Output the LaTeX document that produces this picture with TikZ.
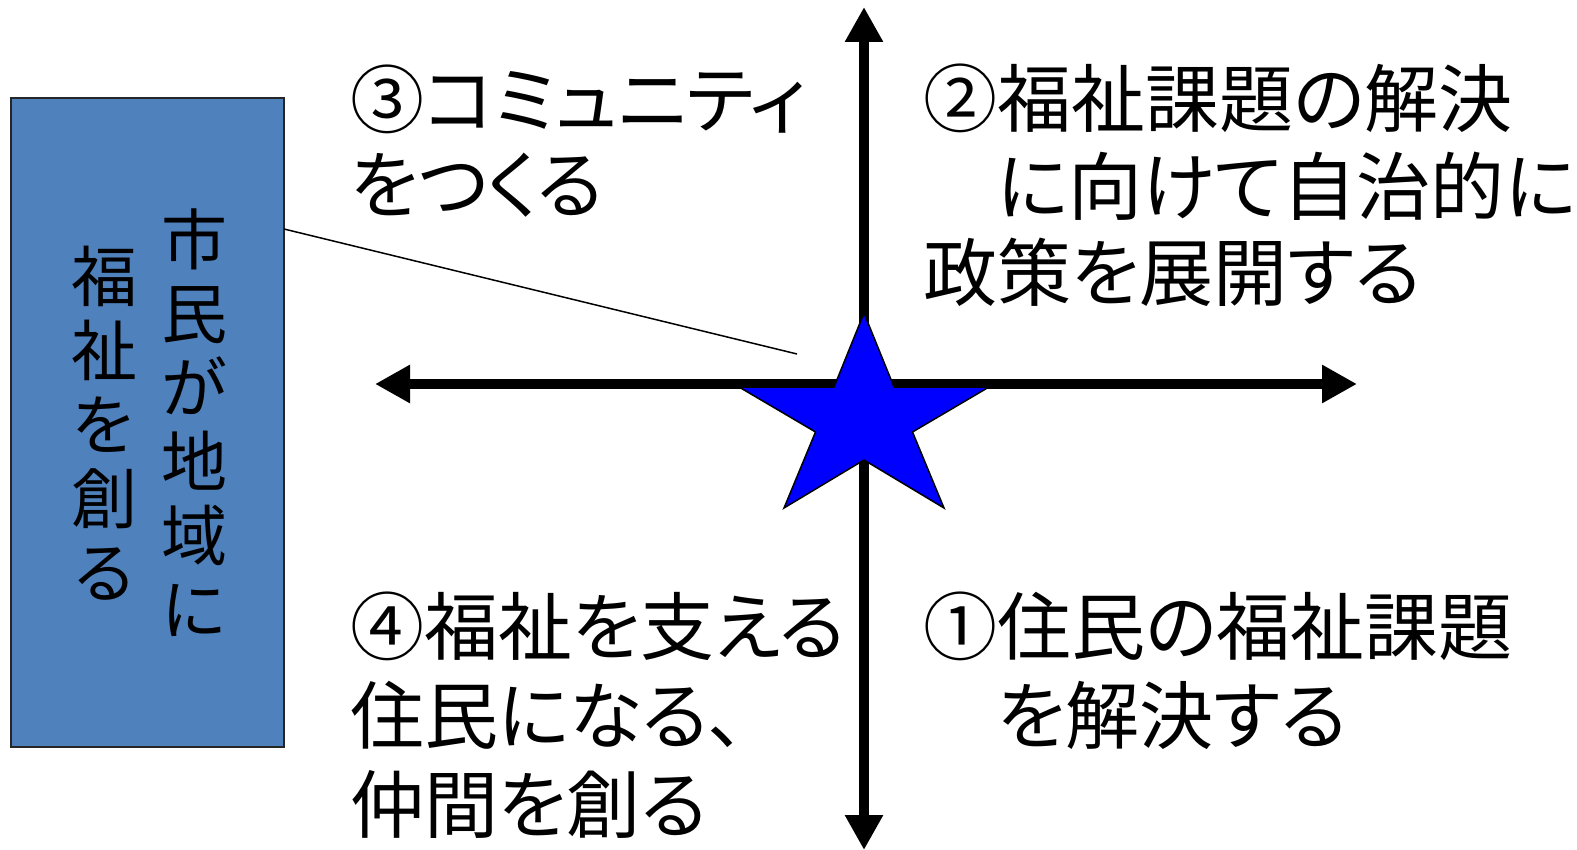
\documentclass[tikz,border=0pt]{standalone}
\usepackage{fontspec}
\newfontfamily\jp[RawFeature=+palt]{Noto Sans CJK JP}
\newfontfamily\jpfull{Noto Sans CJK JP}
\usetikzlibrary{arrows.meta}
\definecolor{boxblue}{RGB}{79,129,189}
\definecolor{starblue}{RGB}{0,0,255}
\begin{document}
\begin{tikzpicture}[x=1pt,y=-1pt,
  lbl/.style={anchor=base west, inner sep=0pt, font=\jp\fontsize{74}{86}\selectfont},
  vtxt/.style={align=center, inner sep=0pt, font=\jpfull\fontsize{66}{74}\selectfont},
  axisline/.style={line width=10pt, {Triangle[length=35pt,width=36pt]}-{Triangle[length=35pt,width=36pt]}},
  boxsty/.style={draw=black!85, line width=1.5pt, fill=boxblue, minimum width=273pt, minimum height=649pt, inner sep=0pt},
  starsty/.style={draw=black, line width=1.5pt, fill=starblue, line join=miter},
  leader/.style={draw=black, line width=1.5pt},
]
\useasboundingbox (0,0) rectangle (1577,850);

% left box
\node[boxsty] (box) at (147.5,422.5) {};
\node[vtxt] (col1) at (194,423) {市\\民\\が\\地\\域\\に};
\node[vtxt] (col2) at (104,423) {福\\祉\\を\\創\\る};

% leader line
\coordinate (ls) at (284,229);
\coordinate (le) at (797,354);
\draw[leader] (ls) -- (le);

% axes
\coordinate (vt) at (864,7);
\coordinate (vb) at (864,850);
\coordinate (hl) at (375,384);
\coordinate (hr) at (1357,384);
\draw[axisline] (vb) -- (vt);
\draw[axisline] (hl) -- (hr);

% star
\draw[starsty] (864,313) -- (894,387) -- (989,387) -- (912.5,432) -- (944,508)
  -- (864,460) -- (784,508) -- (815.5,432) -- (739,387) -- (834,387) -- cycle;

% quadrant texts
\node[lbl] (q3a) at (350,128) {③コミュニティ};
\node[lbl] (q3b) at (350,213) {をつくる};

\node[lbl] (q2a) at (923,127) {②福祉課題の解決};
\node[lbl] (q2b) at (923,215) {　に向けて自治的に};
\node[lbl] (q2c) at (923,301) {政策を展開する};

\node[lbl] (q4a) at (350,654) {④福祉を支える};
\node[lbl] (q4b) at (350,743) {住民になる、};
\node[lbl] (q4c) at (350,832) {仲間を創る};

\node[lbl] (q1a) at (923,654) {①住民の福祉課題};
\node[lbl] (q1b) at (923,743) {　を解決する};
\end{tikzpicture}
\end{document}
